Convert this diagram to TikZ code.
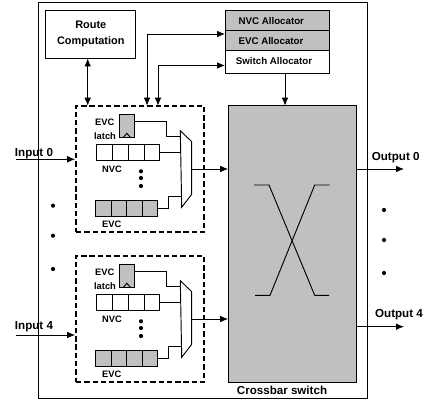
\documentclass[tikz,border=0pt]{standalone}
\usepackage{fontspec}
\setmainfont{Liberation Sans}
\usetikzlibrary{arrows.meta}
\def\px{0.75pt}
\definecolor{boxgray}{RGB}{192,192,192}
\tikzset{
    box/.style={draw, line width=0.7pt, inner sep=0pt},
    lab/.style={inner sep=0pt, font=\fontsize{7}{8}\selectfont\bfseries},
    biglab/.style={inner sep=0pt, font=\fontsize{8.7}{10}\selectfont\bfseries},
    alloclab/.style={inner sep=0pt, font=\fontsize{7.3}{8}\selectfont\bfseries},
    wire/.style={line width=0.7pt},
    arrow/.style={wire, -{Latex[length=6pt,width=5pt]}},
    both/.style={wire, {Latex[length=6pt,width=5pt]}-{Latex[length=6pt,width=5pt]}},
    dot/.style={circle, fill=black, inner sep=0pt, minimum size=3.1pt}
}
\begin{document}
\begin{tikzpicture}[x=0.75pt,y=-0.75pt]
    \useasboundingbox (0,0) rectangle (424,402);
    \node[box, minimum width=329*\px, minimum height=396*\px] (frame) at (202.5,200) {};

    \node[box, align=center, minimum width=90*\px, minimum height=48*\px,
          font=\fontsize{8.2}{11.5}\selectfont\bfseries] (route) at (90.8,34) {Route\\Computation};

    \node[box, fill=boxgray, minimum width=104*\px, minimum height=20*\px] (nvcalloc) at (277,20.5) {};
    \node[box, fill=boxgray, minimum width=104*\px, minimum height=20*\px] (evcalloc) at (277,40.5) {};
    \node[box, minimum width=104*\px, minimum height=23.5*\px] (swalloc) at (277,62.2) {};
    \node[alloclab] (nvctext) at (271.3,21) {NVC Allocator};
    \node[alloclab] (evctext) at (271,41) {EVC Allocator};
    \node[alloclab] (swtext) at (274,61.5) {Switch Allocator};

    \node[box, fill=boxgray, minimum width=127.5*\px, minimum height=277*\px] (cross) at (292.4,244.2) {};
    \node[biglab] (crosstext) at (282,390.7) {Crossbar switch};
    \draw[wire] (254,185) -- (269,185) -- (314.7,295.3) -- (329,295.3);
    \draw[wire] (255,295.3) -- (270,295.3) -- (314.7,185) -- (329.7,185);

    \foreach \k/\dy in {a/0,b/150} {
        \begin{scope}[shift={(0,\dy)}]
            \node[draw, dashed, line width=1.2pt, dash pattern=on 4pt off 2.2pt, inner sep=0pt,
                  minimum width=128*\px, minimum height=126.5*\px] (dash\k) at (140,169) {};

            \node[box, fill=boxgray, minimum width=14.7*\px, minimum height=23.4*\px] (latch\k) at (127.3,126) {};
            \draw[wire] (123,137.7) -- (126.8,133.3) -- (130.7,137.7);
            \node[lab] (evcup\k) at (104.7,122.3) {EVC};
            \node[lab] (latchup\k) at (105,136.3) {latch};

            \node[box, minimum width=62.7*\px, minimum height=16.4*\px] (nvc\k) at (128.3,152.5) {};
            \node[box, fill=boxgray, minimum width=62.7*\px, minimum height=16.4*\px] (evc\k) at (126.6,208.3) {};
            \foreach \i in {1,2,3} {
                \draw[wire] (97+\i*15.7,144.3) -- (97+\i*15.7,160.7);
                \draw[wire] (95.3+\i*15.7,200.1) -- (95.3+\i*15.7,216.5);
            }
            \node[lab] (nvclab\k) at (112,169.7) {NVC};
            \node[lab] (evclab\k) at (111.7,224.3) {EVC};
            \foreach \y in {171.3,178,186} {
                \node[dot] at (141,\y) {};
            }

            \coordinate (muxtl\k) at (180.3,130.7);
            \coordinate (muxtr\k) at (191.7,141.7);
            \coordinate (muxbr\k) at (191.7,194.3);
            \coordinate (muxbl\k) at (181.7,207.3);
            \draw[wire] (muxtl\k) -- (muxtr\k) -- (muxbr\k) -- (muxbl\k) -- cycle;
            \coordinate (latchout\k) at (134.7,121.3);
            \coordinate (muxin\k) at (180.5,136.7);
            \coordinate (muxev\k) at (181.3,196.7);
            \coordinate (muxout\k) at (191.7,169);
            \draw[wire] (latchout\k) -- ++(31.3,0) |- (muxin\k);
            \draw[wire] (nvc\k.east) -- (nvc\k.east -| muxin\k);
            \draw[wire] (evc\k.east) -- ++(10,0) |- (muxev\k);
            \draw[arrow] (muxout\k) -- (muxout\k -| cross.west);
        \end{scope}
    }

    \coordinate (rcport) at (87.7,105.7);
    \coordinate (nvcport) at (147,105.7);
    \coordinate (swport) at (158,105.7);
    \coordinate (nvcin) at (225,34);
    \coordinate (swin) at (225,65.5);
    \coordinate (xport) at (285,105.7);
    \draw[both] (rcport |- route.south) -- (rcport);
    \draw[both] (nvcport) |- (nvcin);
    \draw[both] (swport) |- (swin);
    \draw[arrow] (xport |- swalloc.south) -- (xport);

    \coordinate (inzero) at (16,159.3);
    \coordinate (infour) at (16,335);
    \coordinate (outzero) at (404,169);
    \coordinate (outfour) at (404,326.7);
    \draw[arrow] (inzero) -- (inzero -| dasha.west);
    \draw[arrow] (infour) -- (infour -| dashb.west);
    \draw[arrow] (outzero -| cross.east) -- (outzero);
    \draw[arrow] (outfour -| cross.east) -- (outfour);
    \node[biglab] (inzerotext) at (34,154) {Input 0};
    \node[biglab] (infourtext) at (34,326.7) {Input 4};
    \node[biglab] (outzerotext) at (395.7,157.7) {Output 0};
    \node[biglab] (outfourtext) at (399,315) {Output 4};

    \foreach \y in {205.7,235.7,269} {
        \node[dot] at (53,\y) {};
    }
    \foreach \y in {210,240,273} {
        \node[dot] at (384,\y) {};
    }
\end{tikzpicture}
\end{document}
